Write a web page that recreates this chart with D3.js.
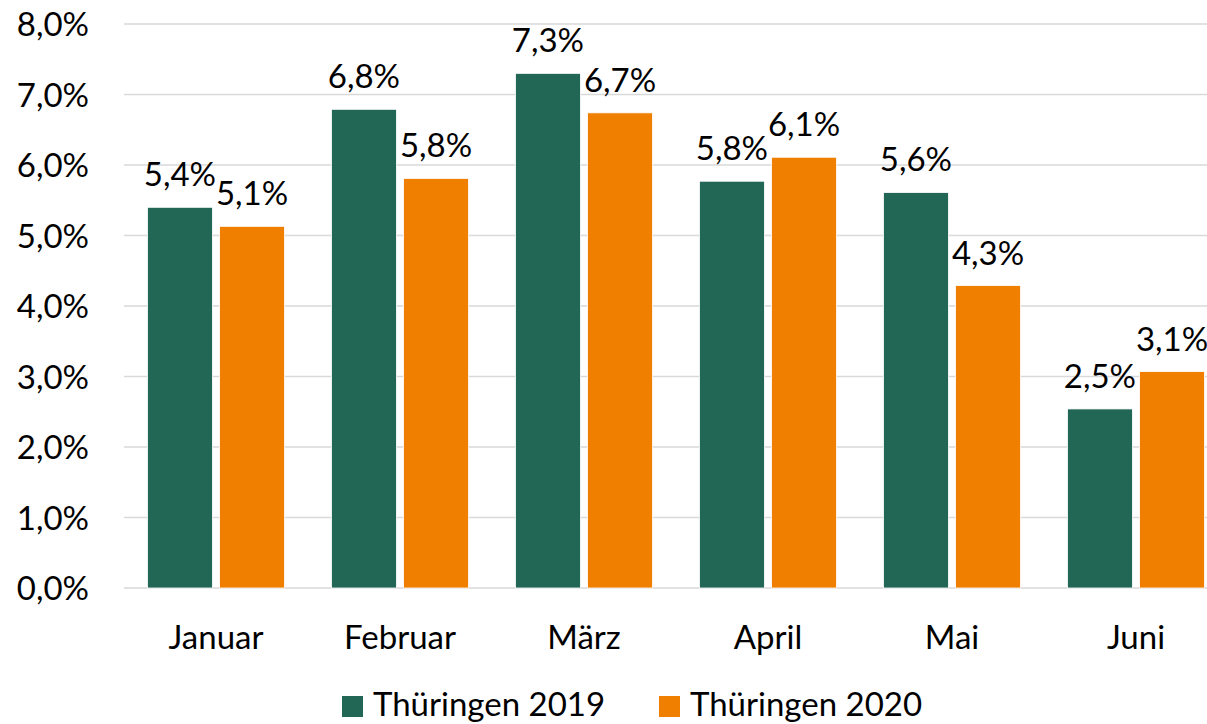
<!DOCTYPE html>
<html>
<head>
<meta charset="utf-8">
<script src="https://cdn.jsdelivr.net/npm/d3@7"></script>
<style>
  html, body { margin: 0; padding: 0; background: #fff; }
  svg { display: block; font-family: Lato, "Open Sans", sans-serif; }
</style>
</head>
<body>
<div id="chart_container"></div>
<script>
// chart data
const MONTHS = ["Januar", "Februar", "März", "April", "Mai", "Juni"];
const SERIES = ["Thüringen 2019", "Thüringen 2020"];
const VALUES_2019 = [5.40, 6.79, 7.30, 5.77, 5.61, 2.54];
const VALUES_2020 = [5.13, 5.81, 6.74, 6.11, 4.29, 3.07];
const Y_TICKS = [0, 1, 2, 3, 4, 5, 6, 7, 8];

const COLORS = ["#226655", "#F07F00"];

// chart dimensions
const W = 1207;
const H = 724;
const PLOT = Object.freeze({ left: 124, right: 1228, top: 24, bottom: 588 });

const fmt = (v) => d3.format(".1f")(v).replace(".", ",") + "%";

const rows = MONTHS.map((m, i) => ({
  month: m,
  values: [VALUES_2019[i], VALUES_2020[i]],
}));

const svg = d3
  .select("#chart_container")
  .append("svg")
  .attr("width", W)
  .attr("height", H);

// scales
const x0 = d3
  .scaleBand()
  .domain(MONTHS)
  .range([PLOT.left, PLOT.right])
  .paddingInner(47 / 184)
  .paddingOuter(47 / 368);

const x1 = d3
  .scaleBand()
  .domain([0, 1])
  .range([0, x0.bandwidth()])
  .paddingInner(0.1);

const y = d3.scaleLinear().domain([0, 8]).range([PLOT.bottom, PLOT.top]);

// gridlines
svg
  .append("g")
  .selectAll("line")
  .data(Y_TICKS)
  .join("line")
  .attr("x1", PLOT.left)
  .attr("x2", W)
  .attr("y1", (d) => y(d))
  .attr("y2", (d) => y(d))
  .attr("stroke", "#d9d9d9")
  .attr("stroke-width", 1.5);

// y axis labels
const yAxis = svg
  .append("g")
  .attr("transform", `translate(${PLOT.left - 35}, 0)`)
  .call(d3.axisLeft(y).tickValues(Y_TICKS).tickSize(0).tickPadding(0).tickFormat(fmt));
yAxis.select(".domain").remove();
yAxis
  .selectAll("text")
  .attr("font-family", "Lato, 'Open Sans', sans-serif")
  .style("font-size", "33px")
  .attr("fill", "#000")
  .attr("dy", "0.36em");

// x axis labels
const xAxis = svg
  .append("g")
  .attr("transform", `translate(0, ${PLOT.bottom})`)
  .call(d3.axisBottom(x0).tickSize(0).tickPadding(0));
xAxis.select(".domain").remove();
xAxis
  .selectAll("text")
  .attr("font-family", "Lato, 'Open Sans', sans-serif")
  .style("font-size", "33px")
  .attr("fill", "#000")
  .attr("dy", null)
  .attr("y", 61);

// bars
const groups = svg
  .append("g")
  .selectAll("g")
  .data(rows)
  .join("g")
  .attr("transform", (d) => `translate(${x0(d.month)}, 0)`);

groups
  .selectAll("rect")
  .data((d) => d.values.map((v, i) => ({ v, i })))
  .join("rect")
  .attr("x", (d) => x1(d.i))
  .attr("y", (d) => y(d.v))
  .attr("width", x1.bandwidth())
  .attr("height", (d) => y(0) - y(d.v))
  .attr("fill", (d) => COLORS[d.i])
  .attr("stroke", "#fff")
  .attr("stroke-width", 0.8);

// value labels
groups
  .selectAll(".label")
  .data((d) => d.values.map((v, i) => ({ v, i })))
  .join("text")
  .classed("label", true)
  .attr("x", (d) => x1(d.i) + x1.bandwidth() / 2)
  .attr("y", (d) => y(d.v) - 21)
  .attr("text-anchor", "middle")
  .style("font-size", "33px")
  .attr("fill", "#000")
  .text((d) => fmt(d.v));

// legend
const LEGEND_X = [342, 659];
const legend = svg
  .append("g")
  .selectAll("g")
  .data(SERIES)
  .join("g")
  .attr("transform", (d, i) => `translate(${LEGEND_X[i]}, 696)`);

legend
  .append("rect")
  .attr("width", 21)
  .attr("height", 21)
  .attr("fill", (d, i) => COLORS[i]);

legend
  .append("text")
  .attr("x", 31)
  .attr("y", 20)
  .style("font-size", "33px")
  .attr("fill", "#000")
  .text((d) => d);
</script>
</body>
</html>
